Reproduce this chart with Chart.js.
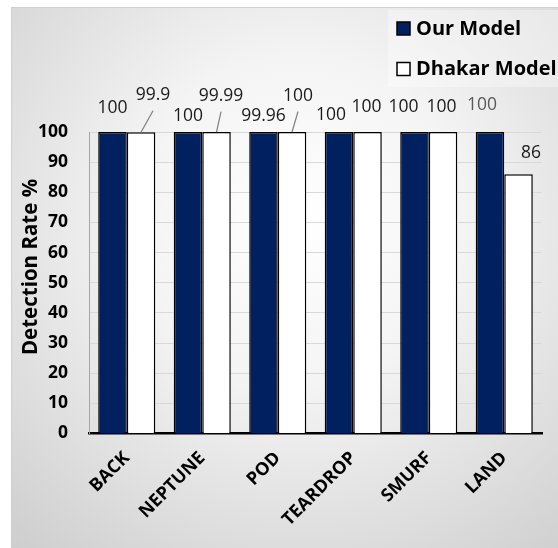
<!DOCTYPE html>
<html>
<head>
<meta charset="utf-8">
<script src="https://cdn.jsdelivr.net/npm/chart.js@4.4.1/dist/chart.umd.min.js"></script>
<style>
  html, body { margin: 0; padding: 0; background: #ffffff; }
  #wrap { width: 558px; height: 548px; position: relative; }
  canvas { display: block; }
</style>
</head>
<body>
<div id="wrap"><canvas id="chart" width="558" height="548"></canvas></div>
<script>
// Attack categories and detection rates (%)
const categories = ['BACK', 'NEPTUNE', 'POD', 'TEARDROP', 'SMURF', 'LAND'];
const ourModel = [100, 100, 99.96, 100, 100, 100];
const dhakarModel = [99.9, 99.99, 100, 100, 100, 86];
const seriesNames = ['Our Model', 'Dhakar Model'];
const yMin = 0, yMax = 100, yStep = 10;
const yTitle = 'Detection Rate %';

// Value-label placement relative to the top centre of each bar: [dx, dy, leader]
const ourLabelPos = [[0, -24, 0], [0, -16, 0], [0, -16, 0], [-8, -17, 0], [-11, -24.5, 0], [-8, -27, 0]];
const dhakarLabelPos = [[12, -37, 1], [4.5, -36, 1], [6, -36, 1], [-1, -24.5, 0], [-1.5, -24.5, 0], [12.5, -21, 0]];
const ourLabelColor = ['#1a1a1a', '#1a1a1a', '#1a1a1a', '#1a1a1a', '#1a1a1a', '#595959'];
const dhakarLabelColor = ['#1a1a1a', '#1a1a1a', '#1a1a1a', '#1a1a1a', '#1a1a1a', '#1a1a1a'];

const NAVY = '#002060';
const FONT = '"Open Sans", "Liberation Sans", sans-serif';

const backdrop = {
  id: 'backdrop',
  beforeDraw(chart) {
    const { ctx, width: W, height: H } = chart;
    ctx.save();
    ctx.fillStyle = '#ffffff';
    ctx.fillRect(0, 0, W, H);
    const g = ctx.createRadialGradient(300, 220, 0, 300, 220, 470);
    g.addColorStop(0, '#ffffff');
    g.addColorStop(0.35, '#f4f4f4');
    g.addColorStop(0.8, '#d6d6d6');
    g.addColorStop(1, '#c9c9c9');
    ctx.fillStyle = g;
    ctx.fillRect(11, 7, W - 11, H - 7);
    ctx.strokeStyle = '#d0d0d0';
    ctx.lineWidth = 1;
    ctx.beginPath();
    ctx.moveTo(11.5, H);
    ctx.lineTo(11.5, 7.5);
    ctx.lineTo(W, 7.5);
    ctx.stroke();
    // legend panel
    ctx.fillStyle = 'rgba(255,255,255,0.35)';
    ctx.fillRect(388, 10, W - 388, 77);
    ctx.restore();
  }
};

const decorations = {
  id: 'decorations',
  afterDatasetsDraw(chart) {
    const ctx = chart.ctx;
    ctx.save();
    ctx.font = '17.5px ' + FONT;
    ctx.textAlign = 'center';
    ctx.textBaseline = 'middle';
    const place = [ourLabelPos, dhakarLabelPos];
    const colors = [ourLabelColor, dhakarLabelColor];
    chart.data.datasets.forEach((ds, di) => {
      const meta = chart.getDatasetMeta(di);
      meta.data.forEach((bar, i) => {
        const [dx, dy, leader] = place[di][i];
        const lx = bar.x + dx, ly = bar.y + dy;
        if (leader) {
          ctx.strokeStyle = '#7f7f7f';
          ctx.lineWidth = 1.2;
          ctx.beginPath();
          ctx.moveTo(lx, ly + 15.5);
          ctx.lineTo(bar.x, bar.y);
          ctx.stroke();
        }
        ctx.fillStyle = colors[di][i];
        ctx.fillText(String(ds.data[i]), lx, ly);
      });
    });
    ctx.restore();
  },
  afterDraw(chart) {
    const ctx = chart.ctx;
    ctx.save();
    // y-axis title
    ctx.translate(31, 267);
    ctx.rotate(-Math.PI / 2);
    ctx.font = 'bold 20.5px ' + FONT;
    ctx.fillStyle = '#000000';
    ctx.textAlign = 'center';
    ctx.textBaseline = 'middle';
    ctx.fillText(yTitle, 0, 0);
    ctx.restore();

    // legend
    ctx.save();
    ctx.font = 'bold 20px ' + FONT;
    ctx.textAlign = 'left';
    ctx.textBaseline = 'middle';
    const rows = [28.5, 69];
    chart.data.datasets.forEach((ds, di) => {
      const cy = rows[di];
      ctx.fillStyle = ds.backgroundColor;
      ctx.fillRect(397, cy - 6.5, 13, 13);
      ctx.strokeStyle = '#000000';
      ctx.lineWidth = 1.5;
      ctx.strokeRect(397, cy - 6.5, 13, 13);
      ctx.fillStyle = '#000000';
      ctx.fillText(ds.label, 416, cy + 0.5);
    });
    ctx.restore();
  }
};

new Chart(document.getElementById('chart'), {
  type: 'bar',
  data: {
    labels: categories,
    datasets: [
      { label: seriesNames[0], data: ourModel, backgroundColor: NAVY, borderColor: '#000000', borderWidth: 1.5 },
      { label: seriesNames[1], data: dhakarModel, backgroundColor: '#ffffff', borderColor: '#000000', borderWidth: 1.5 }
    ]
  },
  options: {
    responsive: false,
    animation: false,
    devicePixelRatio: 1,
    layout: { padding: { top: 132, right: 16, bottom: 0, left: 0 } },
    datasets: { bar: { categoryPercentage: 0.756, barPercentage: 1.0 } },
    plugins: { legend: { display: false }, tooltip: { enabled: false } },
    scales: {
      x: {
        grid: { display: false, drawTicks: false },
        border: { display: true, color: '#000000', width: 2.5 },
        ticks: {
          minRotation: 45, maxRotation: 45, autoSkip: false, padding: 14,
          color: '#000000', font: { family: FONT, size: 18, weight: 'bold' }
        },
        afterFit(scale) { scale.height = 548 - 433.5; }
      },
      y: {
        min: yMin, max: yMax,
        grid: { color: '#d9d9d9', lineWidth: 1, drawTicks: false },
        border: { display: true, color: '#a6a6a6', width: 1 },
        ticks: {
          stepSize: yStep, padding: 21,
          color: '#000000', font: { family: FONT, size: 17.5, weight: 'bold' }
        },
        afterFit(scale) { scale.width = 89; }
      }
    }
  },
  plugins: [backdrop, decorations]
});
</script>
</body>
</html>
